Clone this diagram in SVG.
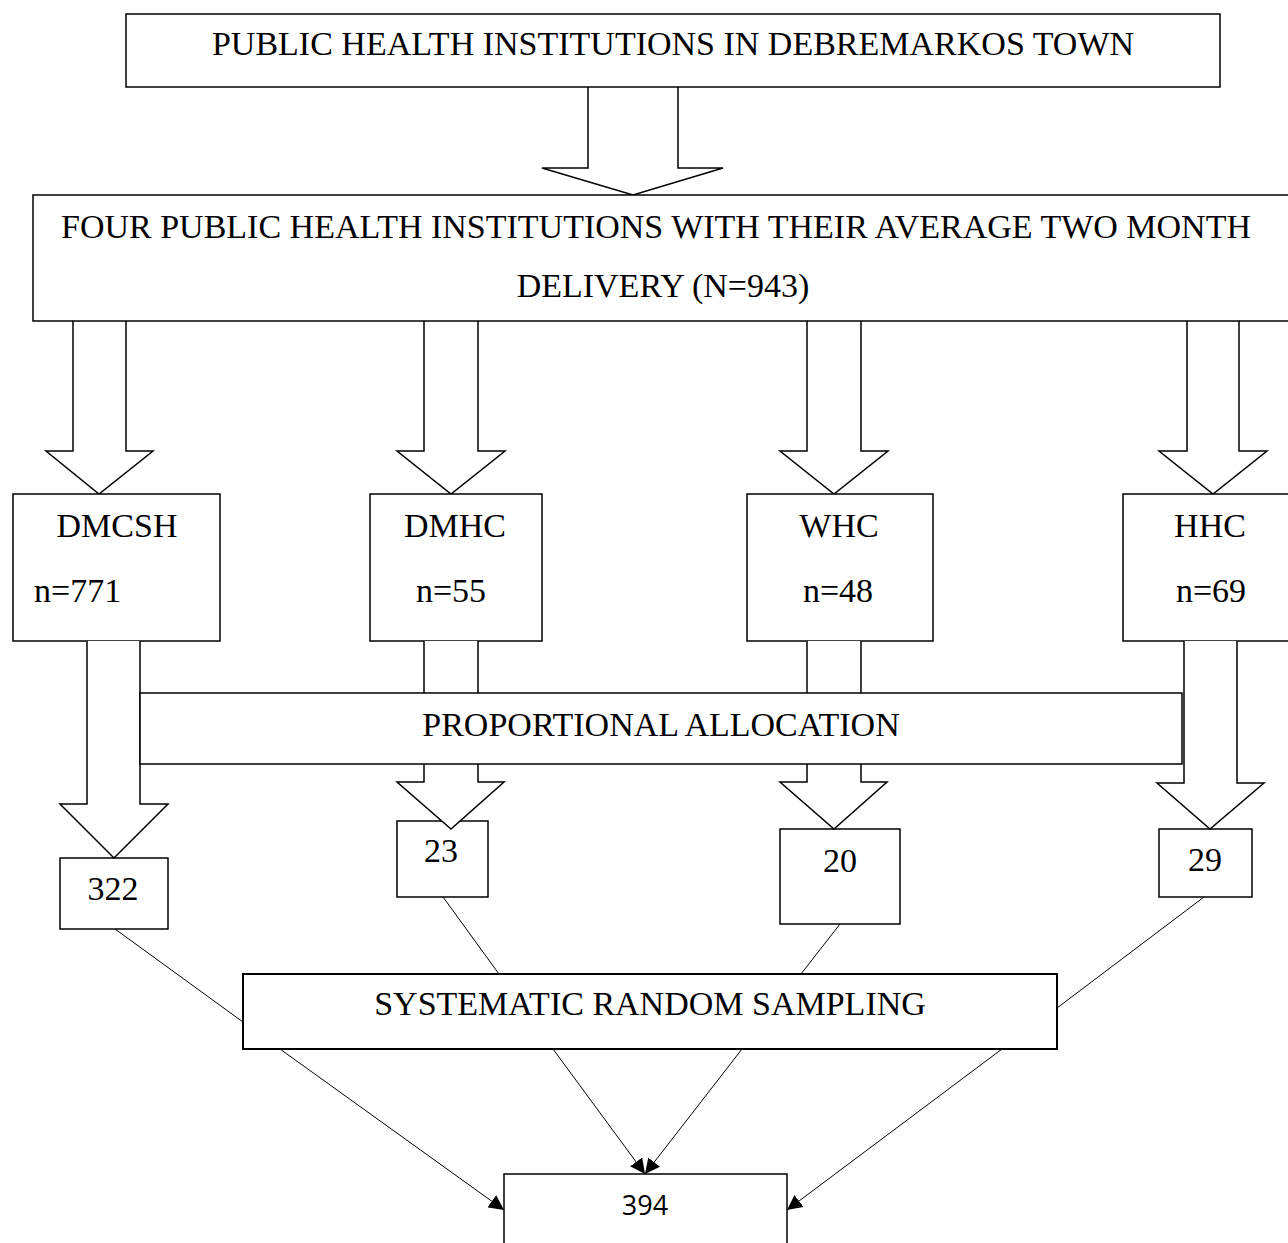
<svg xmlns="http://www.w3.org/2000/svg" width="1288" height="1243" viewBox="0 0 1288 1243">
<style>
.box{fill:#fff;stroke:#000;stroke-width:1.5}
.blk{fill:#fff;stroke:#000;stroke-width:1.5;stroke-linejoin:miter}
.t{font-family:"Liberation Serif","Times New Roman",serif;font-size:34px;fill:#000;text-anchor:middle}
.tl{font-family:"Liberation Serif","Times New Roman",serif;font-size:34px;fill:#000}
.s{font-family:"Open Sans","Noto Sans",sans-serif;font-size:27px;fill:#000;text-anchor:middle}
.ln{stroke:#000;stroke-width:1;fill:none}
</style>
<defs>
<marker id="ah" viewBox="0 0 10 10" refX="10" refY="5" markerWidth="15" markerHeight="15" markerUnits="userSpaceOnUse" orient="auto">
<path d="M0,0 L10,5 L0,10 z" fill="#000"/>
</marker>
</defs>
<rect width="1288" height="1243" fill="#fff"/>

<g id="connectors">
<path class="blk" d="M588,87 V168 H542 L633,195 L723,168 H678 V87"/>
<path class="blk" d="M73,321 V451 H46 L99,494 L153,451 H126 V321"/>
<path class="blk" d="M424,321 V451 H397 L451,494 L505,451 H478 V321"/>
<path class="blk" d="M807,321 V451 H780 L834,494 L888,451 H861 V321"/>
<path class="blk" d="M1187,321 V451 H1159 L1213,494 L1267,451 H1239 V321"/>
</g>

<g id="node-top">
<rect class="box" x="126" y="14" width="1094" height="73"/>
<text class="t" x="673" y="55">PUBLIC HEALTH INSTITUTIONS IN DEBREMARKOS TOWN</text>
</g>

<g id="node-four">
<rect class="box" x="33" y="195" width="1262" height="126"/>
<text class="t" x="656" y="238">FOUR PUBLIC HEALTH INSTITUTIONS WITH THEIR AVERAGE TWO MONTH</text>
<text class="t" x="663" y="297">DELIVERY (N=943)</text>
</g>

<g id="node-dmcsh">
<rect class="box" x="13" y="494" width="207" height="147"/>
<text class="t" x="117" y="537">DMCSH</text>
<text class="tl" x="34" y="602">n=771</text>
</g>
<g id="node-dmhc">
<rect class="box" x="370" y="494" width="172" height="147"/>
<text class="t" x="455" y="537">DMHC</text>
<text class="t" x="451" y="602">n=55</text>
</g>
<g id="node-whc">
<rect class="box" x="747" y="494" width="186" height="147"/>
<text class="t" x="839" y="537">WHC</text>
<text class="t" x="838" y="602">n=48</text>
</g>
<g id="node-hhc">
<rect class="box" x="1123" y="494" width="170" height="147"/>
<text class="t" x="1210" y="537">HHC</text>
<text class="t" x="1211" y="602">n=69</text>
</g>

<g id="node-322">
<rect class="box" x="60" y="858" width="108" height="71"/>
<text class="t" x="113" y="900">322</text>
</g>
<g id="node-23">
<rect class="box" x="397" y="821" width="91" height="76"/>
<text class="t" x="441" y="862">23</text>
</g>
<g id="node-20">
<rect class="box" x="780" y="829" width="120" height="95"/>
<text class="t" x="840" y="872">20</text>
</g>
<g id="node-29">
<rect class="box" x="1159" y="829" width="93" height="68"/>
<text class="t" x="1205" y="871">29</text>
</g>

<g id="connectors-2">
<path class="blk" d="M87,641 V804 H60 L114,858 L168,804 H140 V641"/>
<path class="blk" d="M424,641 V782 H397 L451,829 L504,782 H478 V641"/>
<path class="blk" d="M807,641 V782 H780 L834,829 L887,782 H861 V641"/>
<path class="blk" d="M1184,641 V783 H1157 L1210,829 L1264,783 H1237 V641"/>
</g>

<g id="node-proportional">
<rect class="box" x="140" y="693" width="1042" height="71"/>
<text class="t" x="661" y="736">PROPORTIONAL ALLOCATION</text>
</g>

<g id="connectors-3">
<line class="ln" x1="115" y1="929" x2="243" y2="1022"/>
<line class="ln" x1="443" y1="897" x2="499" y2="974"/>
<line class="ln" x1="840" y1="924" x2="801" y2="974"/>
<line class="ln" x1="1204" y1="897" x2="1057" y2="1008"/>
<line class="ln" x1="280" y1="1049" x2="504" y2="1210" marker-end="url(#ah)"/>
<line class="ln" x1="553" y1="1049" x2="645" y2="1174" marker-end="url(#ah)"/>
<line class="ln" x1="742" y1="1049" x2="645" y2="1174" marker-end="url(#ah)"/>
<line class="ln" x1="1002" y1="1049" x2="787" y2="1210" marker-end="url(#ah)"/>
</g>

<g id="node-systematic">
<rect class="box" x="243" y="974" width="814" height="75" style="stroke-width:2"/>
<text class="t" x="650" y="1015">SYSTEMATIC RANDOM SAMPLING</text>
</g>

<g id="node-394">
<rect class="box" x="504" y="1174" width="283" height="80"/>
<text class="s" x="645" y="1215">394</text>
</g>
</svg>
